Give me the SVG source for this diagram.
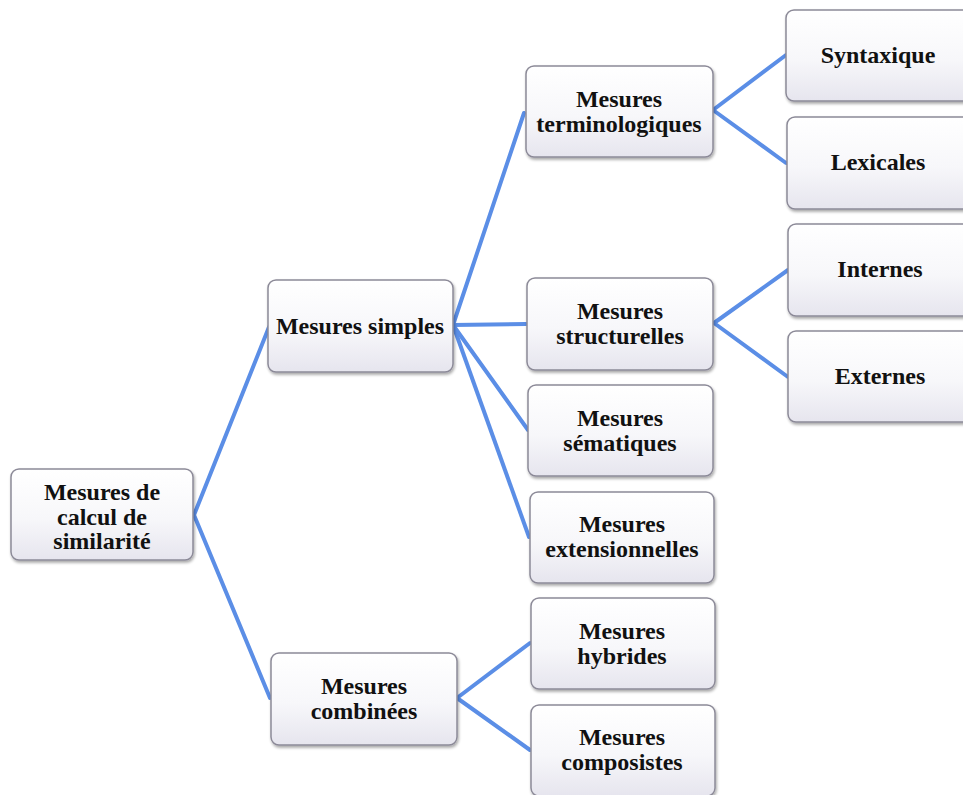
<svg xmlns="http://www.w3.org/2000/svg" width="963" height="795" viewBox="0 0 963 795">
  <defs>
    <linearGradient id="boxFill" x1="0" y1="0" x2="0" y2="1">
      <stop offset="0" stop-color="#ffffff"/>
      <stop offset="0.55" stop-color="#f7f7fa"/>
      <stop offset="1" stop-color="#e6e5ee"/>
    </linearGradient>
    <filter id="shadow" x="-10%" y="-10%" width="125%" height="130%">
      <feGaussianBlur in="SourceAlpha" stdDeviation="1.5"/>
      <feOffset dx="1" dy="2" result="b"/>
      <feComponentTransfer><feFuncA type="linear" slope="0.35"/></feComponentTransfer>
      <feMerge><feMergeNode/><feMergeNode in="SourceGraphic"/></feMerge>
    </filter>
  </defs>
  <style>
    .box { fill: url(#boxFill); stroke: #8c8a98; stroke-width: 1.5; filter: url(#shadow); }
    .lbl { font-family: "Liberation Serif", "Times New Roman", serif; font-weight: bold; font-size: 24px; fill: #111; text-anchor: middle; }
    .link { stroke: #5b8ee6; stroke-width: 4; fill: none; stroke-linecap: round; stroke-linejoin: round; }
  </style>
  <rect width="963" height="795" fill="#ffffff"/>

  <g id="connectors">
    <polyline class="link" points="269,327 194,515 270,698"/>
    <line class="link" x1="453" y1="325" x2="524" y2="113"/>
    <line class="link" x1="453" y1="325" x2="526" y2="324"/>
    <line class="link" x1="453" y1="325" x2="528" y2="430"/>
    <line class="link" x1="453" y1="325" x2="529" y2="537"/>
    <polyline class="link" points="530,643 457,698 530,750"/>
    <polyline class="link" points="786,55 713,110 786,163"/>
    <polyline class="link" points="788,270 714,323 788,377"/>
  </g>

  <g id="n-root">
    <rect class="box" x="11" y="469" width="182" height="91" rx="8"/>
    <text class="lbl" x="102" y="500">Mesures de</text>
    <text class="lbl" x="102" y="525">calcul de</text>
    <text class="lbl" x="102" y="549">similarité</text>
  </g>

  <g id="n-simples">
    <rect class="box" x="268" y="280" width="185" height="92" rx="8"/>
    <text class="lbl" x="360" y="334">Mesures simples</text>
  </g>

  <g id="n-combinees">
    <rect class="box" x="271" y="653" width="186" height="92" rx="8"/>
    <text class="lbl" x="364" y="694">Mesures</text>
    <text class="lbl" x="364" y="719">combinées</text>
  </g>

  <g id="n-terminologiques">
    <rect class="box" x="526" y="66" width="187" height="91" rx="8"/>
    <text class="lbl" x="619" y="107">Mesures</text>
    <text class="lbl" x="619" y="132">terminologiques</text>
  </g>

  <g id="n-structurelles">
    <rect class="box" x="527" y="278" width="186" height="92" rx="8"/>
    <text class="lbl" x="620" y="319">Mesures</text>
    <text class="lbl" x="620" y="344">structurelles</text>
  </g>

  <g id="n-sematiques">
    <rect class="box" x="528" y="385" width="185" height="91" rx="8"/>
    <text class="lbl" x="620" y="426">Mesures</text>
    <text class="lbl" x="620" y="451">sématiques</text>
  </g>

  <g id="n-extensionnelles">
    <rect class="box" x="530" y="492" width="184" height="91" rx="8"/>
    <text class="lbl" x="622" y="532">Mesures</text>
    <text class="lbl" x="622" y="557">extensionnelles</text>
  </g>

  <g id="n-hybrides">
    <rect class="box" x="531" y="598" width="184" height="91" rx="8"/>
    <text class="lbl" x="622" y="639">Mesures</text>
    <text class="lbl" x="622" y="664">hybrides</text>
  </g>

  <g id="n-composistes">
    <rect class="box" x="531" y="705" width="184" height="91" rx="8"/>
    <text class="lbl" x="622" y="745">Mesures</text>
    <text class="lbl" x="622" y="770">composistes</text>
  </g>

  <g id="n-syntaxique">
    <rect class="box" x="786" y="10" width="190" height="91" rx="8"/>
    <text class="lbl" x="878" y="63">Syntaxique</text>
  </g>

  <g id="n-lexicales">
    <rect class="box" x="787" y="117" width="190" height="92" rx="8"/>
    <text class="lbl" x="878" y="170">Lexicales</text>
  </g>

  <g id="n-internes">
    <rect class="box" x="788" y="224" width="190" height="92" rx="8"/>
    <text class="lbl" x="880" y="277">Internes</text>
  </g>

  <g id="n-externes">
    <rect class="box" x="788" y="331" width="190" height="91" rx="8"/>
    <text class="lbl" x="880" y="384">Externes</text>
  </g>
</svg>
